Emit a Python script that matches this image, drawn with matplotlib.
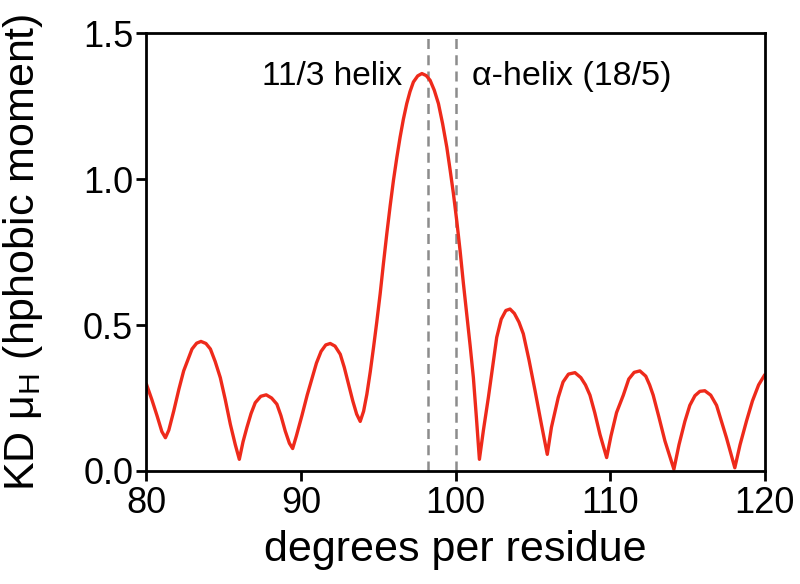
import matplotlib
matplotlib.use("Agg")
import matplotlib.pyplot as plt

plt.rcParams['font.family'] = ['Liberation Sans', 'DejaVu Sans']
plt.rcParams['mathtext.fontset'] = 'custom'
plt.rcParams['mathtext.rm'] = 'Liberation Sans'

# values
deg = [80.0, 80.35, 80.69, 81.0, 81.23, 81.45, 81.77, 82.1, 82.41, 82.95,
       83.25, 83.53, 83.85, 84.14, 84.45, 84.78, 85.1, 85.43, 85.75, 86.01,
       86.25, 86.5, 86.77, 87.04, 87.4, 87.75, 88.1, 88.44, 88.7, 88.98,
       89.25, 89.46, 89.7, 90.06, 90.4, 90.7, 91.0, 91.3, 91.6, 91.89,
       92.2, 92.54, 92.8, 93.07, 93.35, 93.6, 93.83, 94.05, 94.26, 94.48,
       94.69, 94.9, 95.12, 95.33, 95.55, 95.77, 95.98, 96.2, 96.41, 96.62,
       96.84, 97.05, 97.27, 97.55, 97.82, 98.1, 98.35, 98.62, 98.89, 99.16,
       99.43, 99.65, 99.86, 100.08, 100.29, 100.5, 100.72, 100.94, 101.15, 101.35,
       101.54, 101.8, 102.12, 102.4, 102.66, 102.95, 103.25, 103.52, 103.8, 104.1,
       104.38, 104.75, 105.14, 105.55, 105.93, 106.2, 106.64, 106.95, 107.3, 107.72,
       108.1, 108.4, 108.69, 109.0, 109.34, 109.77, 110.05, 110.41, 110.85, 111.2,
       111.55, 111.92, 112.3, 112.55, 112.78, 113.15, 113.54, 114.12, 114.45, 114.83,
       115.15, 115.48, 115.8, 116.12, 116.5, 116.88, 117.2, 117.52, 117.8, 118.06,
       118.4, 118.82, 119.2, 119.6, 120.0]
mu_h = [0.298, 0.245, 0.189, 0.135, 0.114, 0.14, 0.206, 0.28, 0.343, 0.418,
        0.438, 0.444, 0.437, 0.418, 0.375, 0.32, 0.245, 0.16, 0.09, 0.04,
        0.1, 0.149, 0.197, 0.234, 0.256, 0.261, 0.25, 0.229, 0.19, 0.137,
        0.095, 0.077, 0.12, 0.19, 0.26, 0.315, 0.37, 0.41, 0.432, 0.437,
        0.428, 0.40, 0.355, 0.298, 0.24, 0.195, 0.17, 0.205, 0.263, 0.34,
        0.423, 0.51, 0.607, 0.71, 0.813, 0.91, 0.996, 1.075, 1.144, 1.205,
        1.259, 1.30, 1.333, 1.354, 1.362, 1.355, 1.339, 1.305, 1.259, 1.19,
        1.11, 1.03, 0.95, 0.855, 0.755, 0.645, 0.538, 0.43, 0.32, 0.18,
        0.04, 0.14, 0.252, 0.36, 0.458, 0.52, 0.55, 0.555, 0.54, 0.51,
        0.47, 0.38, 0.275, 0.16, 0.057, 0.15, 0.252, 0.305, 0.332, 0.337,
        0.32, 0.295, 0.26, 0.2, 0.125, 0.046, 0.12, 0.2, 0.26, 0.315,
        0.338, 0.343, 0.325, 0.295, 0.26, 0.185, 0.103, 0.006, 0.09, 0.17,
        0.225, 0.258, 0.273, 0.275, 0.26, 0.225, 0.17, 0.114, 0.06, 0.011,
        0.09, 0.172, 0.24, 0.295, 0.33]
helix_lines = [98.2, 100.0]
x_ticks = [80, 90, 100, 110, 120]
y_ticks = [0.0, 0.5, 1.0, 1.5]

fig = plt.figure(figsize=(8, 5.84), dpi=100)
ax = fig.add_axes([0.183, 0.1935, 0.773, 0.7495])

for xv in helix_lines:
    ax.axvline(xv, color='#8c8c8c', lw=1.8, ls=(0, (4, 2.5)), zorder=1)

ax.plot(deg, mu_h, color='#ee2a1b', lw=2.4, zorder=2,
        solid_joinstyle='round', solid_capstyle='round')

ax.set_xlim(80, 120)
ax.set_ylim(0, 1.5)
ax.set_xticks(x_ticks)
ax.set_yticks(y_ticks)
ax.set_yticklabels(['{:.1f}'.format(v) for v in y_ticks])
ax.tick_params(labelsize=26, width=2, length=7, direction='out')
ax.tick_params(axis='x', pad=4)
ax.tick_params(axis='y', pad=2.5)
for sp in ax.spines.values():
    sp.set_linewidth(2)

ax.text(96.52, 1.322, '11/3 helix', fontsize=24, ha='right', va='baseline')
ax.text(101.05, 1.322, 'α-helix (18/5)', fontsize=24.5, ha='left', va='baseline')

ax.set_xlabel('degrees per residue', fontsize=31, labelpad=6)
ax.set_ylabel('KD μ$_\\mathrm{H}$ (hphobic moment)', fontsize=31, labelpad=27)

fig.savefig('out.png', dpi=100)
